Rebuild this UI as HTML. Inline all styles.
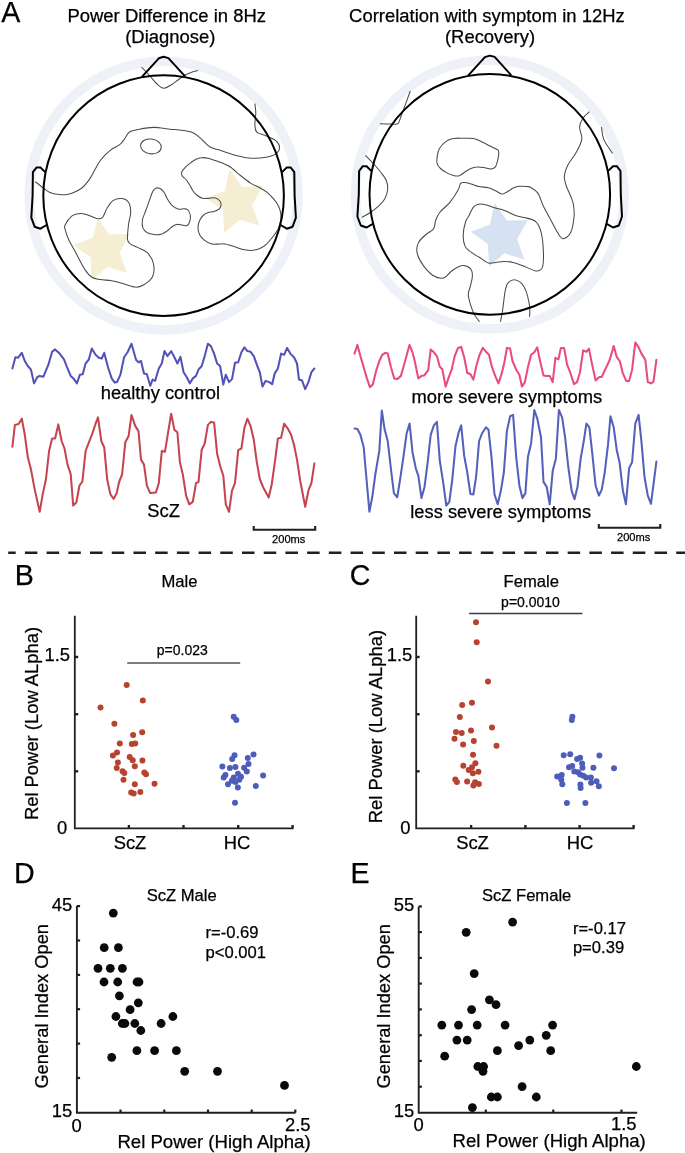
<!DOCTYPE html>
<html><head><meta charset="utf-8"><style>
html,body{margin:0;padding:0;background:#fff;overflow:hidden;}
svg{display:block;will-change:transform;font-family:"Liberation Sans", sans-serif;}
text{stroke:#000;stroke-width:0.25px;}
</style></head><body>
<svg width="685" height="1153" viewBox="0 0 685 1153" fill="#000">
<rect width="685" height="1153" fill="#fff"/>
<text x="1.3" y="21.5" font-size="28.6" text-anchor="start">A</text>
<text x="14.7" y="584.5" font-size="28.6" text-anchor="start">B</text>
<text x="349.7" y="584.7" font-size="28.6" text-anchor="start">C</text>
<text x="14.1" y="882.6" font-size="28.6" text-anchor="start">D</text>
<text x="350.6" y="882.6" font-size="28.6" text-anchor="start">E</text>
<text x="67.5" y="21.6" font-size="18.45" text-anchor="start">Power Difference in 8Hz</text>
<text x="170.3" y="43.2" font-size="18.45" text-anchor="middle">(Diagnose)</text>
<text x="349.1" y="21.6" font-size="18.45" text-anchor="start">Correlation with symptom in 12Hz</text>
<text x="490" y="43.3" font-size="18.45" text-anchor="middle">(Recovery)</text>
<circle cx="163.6" cy="195.6" r="134.4" fill="none" stroke="#eef1f7" stroke-width="9.6"/>
<circle cx="489.8" cy="194.4" r="134.4" fill="none" stroke="#eef1f7" stroke-width="9.6"/>
<polygon points="97.7,218.2 109.4,234.5 129.8,233.9 119.7,252.6 126.9,273.1 107.6,267 91.6,280.1 90.5,257.3 73.2,245 92.8,237.8" fill="#f6eed3"/>
<polygon points="229.5,169.1 242.3,187.1 262.7,186.3 252,205 259.5,225.4 240,219.8 224.2,233 223,210.2 206.1,198 224.8,190.9" fill="#f6eed3"/>
<polygon points="494.6,203 506.9,220.5 527.8,220.3 517.1,238.9 524.3,259.6 504.3,253.2 489.3,266.5 487.7,244 470.9,231.8 490,224.6" fill="#d6e1f1"/>
<path d="M35.2,181.6C36.6,182.7 40.9,186.2 43.4,188C45.9,189.8 47.4,191.4 50,192.5C52.6,193.6 56.2,194.2 59,194.5C61.8,194.8 64.5,194.9 67,194.5C69.5,194.1 71.7,193.3 74.2,192.2C76.7,191.1 79.7,189.7 81.9,188C84.1,186.3 85.8,184.2 87.4,182.2C89,180.2 90.2,178.1 91.5,176C92.8,173.9 93.5,172.2 95,169.5C96.5,166.8 98.2,163.2 100.7,160C103.2,156.8 107,153 110.2,150.4C113.4,147.8 117.3,146.6 119.7,144.7C122.1,142.8 122.9,141.1 124.5,139C126.1,136.9 126.8,133.9 129.2,132.3C131.6,130.7 134.6,130.2 138.7,129.4C142.8,128.6 148.7,127.4 153.9,127.4C159.1,127.4 165.7,128.8 170,129.2C174.3,129.6 175.7,129.4 179.5,130C183.3,130.6 189.5,131.3 193,132.7C196.5,134.1 197.8,136 200.7,138.4C203.5,140.8 206.7,144.9 210.1,147C213.5,149.1 217,149.3 221.3,150.7C225.7,152.1 231.2,154.2 236.2,155.4C241.2,156.7 246.1,157.9 251.1,158.2C256.1,158.5 262.2,157.9 266.3,157.2C270.4,156.5 273.6,155.6 275.8,153.9C278,152.2 279.6,149.5 279.6,147.3C279.6,145.1 278,142.6 275.8,140.7C273.6,138.8 269.5,137.3 266.3,135.9C263.1,134.5 258.7,134 256.8,132.1C254.9,130.2 255.1,127.7 254.9,124.5C254.7,121.3 255.8,116.6 255.8,113.1C255.8,109.6 255.1,105.2 254.9,103.6" fill="none" stroke="#4a4a4a" stroke-width="1.05"/>
<path d="M141.6,67C143,68.5 147.4,73.2 150,76C152.6,78.8 154.7,82 157,84C159.3,86 161.4,88.2 163.8,88.3C166.2,88.4 169,86.1 171.4,84.7C173.8,83.3 175.8,81.6 178,80C180.2,78.4 182.5,76.5 184.7,75.2C186.9,74 188.8,73.3 191,72.5C193.2,71.7 196.8,70.8 198,70.4" fill="none" stroke="#4a4a4a" stroke-width="1.05"/>
<path d="M65.6,231C65,228.7 63.9,227.7 65,225.2C66.1,222.7 69.5,217.8 72,215.8C74.5,213.9 77.5,213.6 80.2,213.5C82.9,213.4 85.7,214.5 88.4,215.3C91.1,216.1 94.2,218 96.5,218.4C98.8,218.8 100.7,219.2 102.4,217.6C104.1,215.9 105.2,211.3 106.9,208.5C108.6,205.7 110.1,202.6 112.6,200.9C115.1,199.2 119.4,198.3 122.1,198.6C124.8,198.9 127.4,200.5 128.8,202.8C130.2,205.1 130.7,208.8 130.7,212.3C130.7,215.8 129.1,219.5 128.6,224C128.1,228.5 127.2,235.9 127.5,239.2C127.8,242.5 128.8,242.5 130.4,243.9C132.1,245.3 134.7,246 137.4,247.4C140.1,248.8 144.1,249.4 146.8,252.1C149.5,254.8 152.5,259.4 153.4,263.5C154.3,267.6 154.2,273.2 152.5,276.8C150.8,280.4 145.9,283.6 143,285.3C140.1,287 138.8,287.5 135.1,287.1C131.4,286.7 125,284.1 121.1,283C117.2,281.9 115.2,281.3 111.7,280.7C108.2,280.1 103.3,280.1 100,279.5C96.7,278.9 94.4,278.8 91.9,277.2C89.4,275.6 87.4,273.4 84.9,269.6C82.4,265.8 79.4,259.5 76.7,254.4C74,249.3 70.3,243.1 68.5,239.2C66.7,235.3 66.2,233.3 65.6,231Z" fill="none" stroke="#4a4a4a" stroke-width="1.05"/>
<path d="M155.6,188.3C156.8,187.7 158.1,187.7 159.5,188.3C160.9,188.9 162.6,190.2 163.9,192C165.2,193.8 166.1,196.8 167.4,199C168.7,201.2 170.1,203.4 171.8,205.1C173.6,206.8 175.9,208.5 177.9,209.1C179.9,209.7 182.4,208.7 184.1,208.8C185.8,209 186.9,208.8 188,210C189.1,211.2 190.1,213.7 190.4,215.7C190.7,217.7 190.2,220.2 189.7,221.8C189.1,223.4 188.3,224.9 187.1,225.5C185.9,226.1 184,225.3 182.3,225.1C180.6,224.9 178.6,224.2 177,224.4C175.4,224.6 174.4,225 172.7,226.2C170.9,227.4 168.4,230.1 166.5,231.4C164.6,232.7 163.3,233.7 161.3,234.2C159.3,234.7 156.6,234.8 154.3,234.5C152,234.2 149.2,233.8 147.3,232.7C145.4,231.6 143.7,230 142.9,227.9C142.1,225.8 142,222.8 142.4,220C142.8,217.2 144.4,214.4 145.5,211.3C146.6,208.2 147.8,204.8 149,201.6C150.2,198.4 151.4,194.2 152.5,192C153.6,189.8 154.4,188.9 155.6,188.3Z" fill="none" stroke="#4a4a4a" stroke-width="1.05"/>
<path d="M181.6,172.3C182.1,170.8 184,168.7 185.5,167.1C187,165.5 189.1,164 190.8,162.7C192.6,161.4 194.2,160 196,159.2C197.8,158.4 199.2,157.8 201.3,157.7C203.4,157.5 206,157.8 208.3,158.3C210.6,158.8 213,159.7 215.3,160.5C217.6,161.3 219.9,162 222.3,163.1C224.8,164.2 227,164.7 230,166.8C233,168.9 237,172.7 240.5,175.5C244,178.3 247.9,181.4 251,183.4C254.1,185.4 256.3,185.8 258.9,187.3C261.5,188.8 264.3,190.2 266.8,192.2C269.3,194.2 271.8,196.9 273.8,199.2C275.8,201.5 277.4,203.7 278.6,206.2C279.8,208.7 280.5,211.4 280.8,214C281.1,216.6 280.8,219.4 280.4,221.9C280,224.4 279.4,226.4 278.2,228.9C276.9,231.4 274.8,234.3 272.9,236.8C271,239.3 269,241.8 266.8,243.8C264.6,245.8 262.3,247.5 259.8,248.6C257.3,249.7 254.7,250.2 251.9,250.4C249.1,250.6 245.2,249.8 243.1,249.5C241,249.2 241.6,249.1 239.6,248.4C237.6,247.7 233.3,246.2 230.9,245.5C228.5,244.8 226.9,244.2 225,243.9C223.1,243.7 221.4,244 219.2,244C217,244 214.3,244.6 211.9,244C209.5,243.4 206.7,242 204.6,240.4C202.5,238.8 200.6,236.7 199.5,234.5C198.4,232.3 198,229.5 198,227.2C198,224.9 198.7,222.6 199.5,220.7C200.3,218.8 201.7,216.8 203.1,215.5C204.5,214.2 206.4,213.3 208.2,212.6C210,211.9 212.3,212.1 214.1,211.5C215.9,210.9 218,210 219.2,209C220.3,208 220.9,206.6 221,205.3C221.1,204 220.8,202.2 219.9,201C219,199.8 217.3,198.5 215.5,198C213.7,197.5 211.1,198.1 209,198.2C206.9,198.3 205,198.8 203.1,198.4C201.2,198 199,196.8 197.3,195.5C195.6,194.2 194.1,192.4 192.9,190.7C191.7,189 191.2,187.4 190,185.5C188.8,183.6 187.3,181 186,179.5C184.7,178 183.1,177.5 182.4,176.3C181.7,175.1 181.1,173.8 181.6,172.3Z" fill="none" stroke="#4a4a4a" stroke-width="1.05"/>
<path d="M410.3,91C409.4,93.6 406.2,102.3 404.6,106.6C403,110.9 401.9,114.2 400.8,117C399.7,119.8 399.4,122.5 398,123.7C396.6,124.9 395.3,124 392.3,124C389.3,124 382,123.8 379.9,123.7" fill="none" stroke="#4a4a4a" stroke-width="1.05"/>
<path d="M365.4,155.3C366.9,156.8 371.6,161.6 374.2,164.5C376.8,167.4 379.2,170.1 381.2,172.8C383.2,175.5 385.3,177.9 386.4,180.7C387.5,183.5 388,186.3 387.7,189.4C387.4,192.5 386.2,196.2 384.7,199C383.2,201.8 380.8,203.9 378.5,206.1C376.2,208.3 373.5,210.3 370.7,212.2C367.9,214.1 363.4,216.5 361.9,217.4" fill="none" stroke="#4a4a4a" stroke-width="1.05"/>
<path d="M437,158C437.4,155.5 437.7,151.5 439.3,148.7C440.9,145.9 444,142.8 446.4,141.1C448.8,139.4 450.5,138.9 453.4,138.4C456.3,137.9 460.6,138.2 463.9,138.2C467.2,138.2 470.7,138 473.2,138.4C475.7,138.8 476.5,139.4 479,140.5C481.5,141.6 485.3,143.6 488.4,145.2C491.5,146.8 496,148.5 497.7,149.9C499.4,151.3 498.7,151.7 498.7,153.4C498.7,155.2 498.2,158.2 497.7,160.4C497.1,162.6 496.6,165.4 495.4,166.8C494.2,168.2 492.6,169 490.7,169.1C488.8,169.2 486,167.9 483.7,167.6C481.4,167.3 478.8,166.9 476.7,167.1C474.6,167.2 472.8,167.7 470.9,168.5C468.9,169.3 466.9,170.8 465,172C463.1,173.2 461.1,175.2 459.2,175.8C457.3,176.4 455.5,176 453.4,175.5C451.3,175 448.5,173.8 446.4,172.6C444.2,171.4 442,169.9 440.5,168.5C439,167.1 437.8,165.7 437.2,163.9C436.6,162.2 436.6,160.5 437,158Z" fill="none" stroke="#4a4a4a" stroke-width="1.05"/>
<path d="M589.5,111.7C588.4,112.8 584.5,115.7 582.9,118.3C581.2,120.9 579.8,123.6 579.6,127.1C579.4,130.6 582.3,134.9 581.8,139.1C581.2,143.3 578.7,147.9 576.3,152.3C573.9,156.7 569.6,161.4 567.6,165.4C565.6,169.4 564.5,172.9 564.3,176.3C564.1,179.7 565.2,182.6 566.3,186C567.4,189.4 569.8,193.8 571,197C572.2,200.2 573,201.6 573.5,205C574,208.4 574.5,212.6 574,217.2C573.5,221.8 572.5,229 570.7,232.6C568.9,236.2 565.3,238.7 563.1,238.7C560.9,238.7 559.8,236 557.6,232.6C555.4,229.2 552.3,222.7 549.9,218.3C547.5,213.9 545.4,210.5 543.4,206.3C541.4,202.1 540.1,196.3 537.9,193.1C535.7,189.9 532.2,188.4 530.4,187.3C528.6,186.2 528.7,186.8 526.9,186.6C525.1,186.4 521.6,186 519.4,186.2C517.2,186.4 515.4,187 513.8,187.7C512.2,188.3 511.3,189.3 510,190.1C508.7,190.9 507.3,191.8 505.9,192.5C504.5,193.2 503.6,194.3 501.8,194C500.1,193.7 497.6,191.7 495.4,190.7C493.2,189.7 491.1,188.5 488.4,187.8C485.7,187.1 481.7,187.2 479,186.6C476.3,186 474.3,185 472,184.3C469.7,183.6 466.9,182.8 465,182.6C463.1,182.4 461.8,182.2 460.6,183.4C459.5,184.6 459.9,186.8 458.1,190C456.3,193.2 453,198.6 449.9,202.3C446.8,206.1 442.1,209.4 439.7,212.5C437.3,215.6 436.6,218 435.6,220.7C434.6,223.4 435.3,226.4 433.6,228.8C431.9,231.2 428,232.6 425.4,235C422.8,237.4 419.6,240 418.2,243.1C416.8,246.2 416.3,249.7 417.2,253.4C418.1,257.2 420.7,261.9 423.4,265.6C426.1,269.3 430.2,273.8 433.6,275.8C437,277.9 440.7,278.8 443.8,277.9C446.9,277 448.9,272.8 452,270.7C455.1,268.6 459.1,265.9 462.2,265.6C465.3,265.3 468.7,267 470.4,268.7C472.1,270.4 472.4,272.9 472.4,275.8C472.4,278.7 471.1,283 470.4,286.1C469.7,289.2 468.3,291.1 468.3,294.2C468.3,297.2 469.4,301 470.4,304.4C471.4,307.8 473,311.8 474.5,314.7C476,317.6 478.8,320.6 479.6,321.8" fill="none" stroke="#4a4a4a" stroke-width="1.05"/>
<path d="M478.3,204.2C480.3,203.8 482.7,204.1 485.4,204.7C488.1,205.3 491.5,206.9 494.6,207.8C497.7,208.7 501.1,209.4 503.8,210.3C506.5,211.2 508.8,212.5 511,213.4C513.2,214.3 514.9,215.3 517.1,216C519.3,216.7 521.2,216.6 524.3,217.5C527.4,218.4 532.9,219.1 535.7,221.6C538.5,224.1 539.9,227.5 541.2,232.6C542.5,237.7 543.2,246.5 543.4,252.3C543.6,258.1 543.6,264.5 542.3,267.6C541,270.7 539.1,271.2 535.7,270.9C532.4,270.5 526,266.9 522.2,265.5C518.4,264.1 516.1,263.1 513,262.4C509.9,261.7 506.7,261.4 503.8,261.4C500.9,261.4 498.2,262.1 495.7,262.4C493.1,262.7 491.2,263.9 488.5,263C485.8,262.1 482.2,259.1 479.3,257.3C476.4,255.5 473.5,254.1 471.1,252.2C468.7,250.3 466.3,249 465,246.1C463.7,243.2 463.1,239 463.2,235C463.3,231 464.5,225.3 465.5,222C466.5,218.7 467.8,217.8 469.1,215.4C470.4,213 471.7,209.2 473.2,207.3C474.7,205.4 476.3,204.6 478.3,204.2Z" fill="none" stroke="#4a4a4a" stroke-width="1.05"/>
<path d="M500.4,321.8C500.7,320.2 501.8,315.5 502.3,312.4C502.8,309.3 503,306.6 503.5,303.1C504,299.6 504.4,294.7 505.1,291.4C505.8,288.1 506.3,285.1 507.9,283.2C509.4,281.2 512.1,279.7 514.4,279.7C516.6,279.7 519.4,281.2 521.4,283.2C523.4,285.1 524.8,288.1 526.1,291.4C527.4,294.7 528.5,300 529.1,303.1C529.7,306.2 529.7,307.8 529.8,310.1C529.9,312.4 529.6,315.9 529.6,317.1" fill="none" stroke="#4a4a4a" stroke-width="1.05"/>
<path d="M601.5,127.1C601.9,129.1 601.9,134.7 603.7,139.1C605.5,143.5 611,151 612.5,153.4" fill="none" stroke="#4a4a4a" stroke-width="1.05"/>
<ellipse cx="150.9" cy="146.4" rx="10.4" ry="7.4" transform="rotate(8 150.9 146.4)" fill="none" stroke="#4a4a4a" stroke-width="1.05"/>
<circle cx="163.6" cy="195.6" r="120.3" fill="none" stroke="#000" stroke-width="2"/>
<polyline points="141.9,76.8 158.8,58.3 163.6,56.8 168.4,58.1 185.1,76.4" fill="none" stroke="#000" stroke-width="2" stroke-linejoin="round"/>
<polyline points="282.1,172.1 286.8,167.4 290.6,167.4 294.3,172.2 294.6,195.6 295.9,217.7 292.6,226.7 286.8,228.7 280.6,225" fill="none" stroke="#000" stroke-width="2" stroke-linejoin="round"/>
<polyline points="45.1,172.1 40.4,167.4 36.6,167.4 32.9,172.2 32.6,195.6 31.3,217.7 34.6,226.7 40.4,228.7 46.6,225" fill="none" stroke="#000" stroke-width="2" stroke-linejoin="round"/>
<circle cx="489.8" cy="194.4" r="120.3" fill="none" stroke="#000" stroke-width="2"/>
<polyline points="468.1,75.6 484.9,57.1 489.8,55.6 494.6,56.9 511.2,75.2" fill="none" stroke="#000" stroke-width="2" stroke-linejoin="round"/>
<polyline points="608.2,170.9 613,166.2 616.8,166.2 620.5,171 620.8,194.4 622,216.5 618.8,225.5 613,227.5 606.8,223.8" fill="none" stroke="#000" stroke-width="2" stroke-linejoin="round"/>
<polyline points="371.2,170.9 366.6,166.2 362.8,166.2 359.1,171 358.8,194.4 357.4,216.5 360.8,225.5 366.6,227.5 372.8,223.8" fill="none" stroke="#000" stroke-width="2" stroke-linejoin="round"/>
<polyline points="12.4,368.5 15.4,357.3 17.9,357.8 21.8,352.8 24.8,361 27.8,366 31,369.7 34,383.4 37.2,377.2 39.7,375.9 43.4,376.7 48.4,364.7 52.1,351.8 55.1,349.4 59.6,353.6 64,359.3 67,367.2 70.7,375.9 74,379.1 76.9,383.4 79.9,374.7 82.7,374.2 85.6,363.5 88.9,359.3 91.8,348.6 95.6,354.8 98.8,357.8 101.8,358.5 104.2,352.8 108,367.2 111.7,378.4 114.7,382.6 117.1,382.1 120.4,374.7 124.1,357.3 127.8,351.8 131.5,343.7 136,359.8 138.5,362.3 141,361 144,373.4 146.9,374.2 150.2,385.8 152.6,379.6 155.1,380.9 158.8,368.5 161.8,363.5 164.5,351.1 167.4,356.1 171.2,351.1 174.4,357.3 177.4,363.5 180.4,356.8 183.6,372.2 186.8,377.2 189.8,383.4 192.8,378.4 196,375.9 198.5,369.7 201.7,366 204.7,356.1 207.9,343.7 210.9,346.1 214.1,353.6 217.1,363.5 220.1,366 223.3,384.6 225.8,374.7 229,382.1 232,379.1 235,362.8 238.2,362.3 241.4,352.3 244.4,347.4 247.4,351.1 250.6,351.8 253.8,356.1 257.3,366 259.8,372.2 262.5,386.6 265.5,380.9 269.2,382.1 272.2,384.1 274.7,373.4 277.9,368.5 281.1,353.6 284.1,354.8 287.1,347.9 290.3,353.6 294,357.3 297,363.5 299,379.6 302,380.4 305.2,389.1 308.4,382.1 311.4,372.2 314.4,368.5" fill="none" stroke="#5353b7" stroke-width="2.05" stroke-linejoin="round" stroke-linecap="round"/>
<polyline points="12.4,446.7 14.9,424.9 18.6,424.1 21.8,418.7 24.8,434.8 27.8,457.2 31,469.6 34.7,489.4 39.7,511.8 42.7,494.4 45.9,479.5 49.1,451 52.1,438.5 55.1,438.5 58.3,424.4 61.6,441 64.5,448.5 67.5,464.6 70.7,474 73.2,505.6 76.4,502.3 79.4,485.7 82.4,481.5 85.6,451 88.9,442.3 92.3,433.6 95.6,423.7 98,417.4 101.3,441 104.2,447.2 107.2,479.5 110.4,494.4 113.7,498.9 116.7,493.1 119.1,482 122.1,474.5 125.3,442.3 128.6,436.1 131.5,415 135.3,426.1 138.5,431.1 141,459.6 144,464.6 146.9,485.7 150.2,493.1 155.9,492.4 158.8,483.2 161.8,451 165,451.7 167.9,433.6 171.2,413.7 174.4,429.9 177.4,432.3 179.9,462.1 182.8,474.5 186.1,495.6 189.3,504.3 192.8,501.8 196,483.2 198.5,482 201.7,449.7 204.7,443.5 207.9,424.9 210.9,421.9 214.1,422.4 217.1,453.4 220.1,465.8 223.3,475.8 225.8,504.3 229,511.8 232,490.7 235,483.2 238.2,450.2 241.4,448.5 244.4,427.9 247.4,418.7 250.6,426.1 253.8,439.8 256.8,462.1 259.8,479 263,486.9 268.7,497.4 271.7,484.5 274.7,463.4 277.9,438.5 281.1,437.8 284.1,423.7 287.8,428.6 291.1,434.8 294,444.7 297,459.6 300.2,480.7 305.2,506.8 308.4,490.7 311.4,483.2 314.4,463.4" fill="none" stroke="#c4454f" stroke-width="2.05" stroke-linejoin="round" stroke-linecap="round"/>
<polyline points="354.5,353.6 357.4,344.9 360.4,356.1 363.7,367.2 366.9,378.4 369.9,387.1 372.8,384.6 376.1,371 379.3,361 382.3,354.8 385.2,352.8 387.7,353.6 391,367.2 394.2,378.4 397.2,379.1 400.9,375.9 404.1,364.7 407.1,353.6 409.6,344.9 412.5,352.3 415,362.3 418.3,378.4 421.5,375.9 424.5,375.2 428.2,370.2 430.7,349.4 433.9,352.3 436.9,356.1 439.8,366.7 442.3,369.2 445.6,386.6 448.8,377.2 451.8,369.2 454.7,356.1 458,347.9 461.2,346.9 464.2,357.3 467.2,372.7 470.4,374.2 473.4,379.6 476.6,364.7 479.6,354.8 482.8,347.9 486,351.8 489,354.8 492,367.2 495.2,375.9 498.4,383.4 501.4,374.7 504.4,362.3 506.9,347.9 510.1,348.6 512.5,361 516.2,369.7 519.4,374.7 521.9,386.6 524.9,382.1 527.9,367.2 531.1,354.8 534.3,352.3 537.3,347.4 540.3,362.3 543.5,375.4 546.7,375.9 549.7,375.9 552.7,382.1 555.4,357.8 558.4,359.3 560.9,347.9 564.1,347.9 567.1,364.7 570.1,372.2 574,384.1 577,382.1 580,372.2 583.2,350.4 586.4,351.8 588.9,348.6 591.9,363.5 595.6,380.4 598.9,377.2 601.8,376.7 605.6,368.5 609.3,361 613.7,346.1 616.7,356.8 619.7,361 622.9,373.4 626.2,380.9 629.1,380.9 632.1,369.7 635.3,342.4 638.6,347.4 641.5,353.6 645.3,359.8 647.8,382.1 651,383.4 653.5,381.6 656.4,359.8" fill="none" stroke="#e84b7f" stroke-width="2.05" stroke-linejoin="round" stroke-linecap="round"/>
<polyline points="354.5,428.6 357.4,429.1 360.4,434.8 363.7,447.2 366.1,474.5 369.4,511.7 372.3,496.8 375.3,474.5 379.3,450.9 381.8,410.5 384.7,429.8 387.7,441 391,469.5 393.9,493.1 397.2,497.3 400.1,479.5 403.4,457.1 406.6,433.5 409.6,423.6 412.5,452.2 415.8,468.3 418.3,475.7 421.5,498.1 424.5,486.9 427.4,464.6 430.7,434.8 433.9,425.4 436.9,421.9 439.8,460.8 443.1,481.9 446.3,505.5 449.3,501.8 452.3,479.5 455.5,446 458.7,432.3 461.2,425.4 464.2,455.9 467.2,472 470.4,493.9 473.4,494.4 476.1,477 479.1,441 482,433.5 486,427.3 488.5,429.8 491.5,457.1 494.5,494.4 497.7,504.3 500.9,490.6 503.9,472 506.9,431.1 510.1,416.2 513.1,414.9 516.2,457.1 519.4,485.7 522.4,498.1 525.4,493.1 527.9,457.1 531.1,443.5 534.3,410 537.3,418.7 541,437.3 543.5,481.9 546.7,486.9 549.7,504.3 552.7,470.8 555.9,458.4 558.9,410 562.1,417.4 565.1,437.3 568.3,467 571.6,490.6 574.5,499.3 577.5,486.9 580.7,458.4 584,439.7 586.4,423.6 589.4,427.3 592.4,454.6 595.6,485.7 598.9,495.6 601.8,489.4 604.8,472 608,444.7 610.5,416.2 613.7,427.3 616.7,449.7 619.7,463.3 622.9,490.6 625.9,504.3 629.1,468.3 632.1,462.1 635.3,423.6 638.6,414.9 641.5,442.2 644.5,477 647.8,495.6 651,503.8 656.4,461.6" fill="none" stroke="#5361bb" stroke-width="2.05" stroke-linejoin="round" stroke-linecap="round"/>
<text x="100.7" y="398.9" font-size="18.35" text-anchor="start">healthy control</text>
<text x="147.2" y="517" font-size="18.4" text-anchor="start">ScZ</text>
<text x="411.4" y="403" font-size="18.37" text-anchor="start">more severe symptoms</text>
<text x="410.3" y="518" font-size="18.3" text-anchor="start">less severe symptoms</text>
<path d="M253.7,526V529.8H315.2V526" fill="none" stroke="#231f20" stroke-width="2.1"/>
<path d="M598.8,524V527.7H660.3V524" fill="none" stroke="#231f20" stroke-width="2.1"/>
<text x="272.1" y="543.1" font-size="11.1" text-anchor="start">200ms</text>
<text x="617" y="541" font-size="11.1" text-anchor="start">200ms</text>
<line x1="8.2" y1="552.7" x2="685" y2="552.7" stroke="#231f20" stroke-width="2.5" stroke-dasharray="12.5 9.21" stroke-dashoffset="5"/>
<path d="M74.8,615.8V828.4H293.4" fill="none" stroke="#231f20" stroke-width="1.8"/>
<line x1="74.8" y1="657" x2="78.2" y2="657" stroke="#231f20" stroke-width="2.4"/>
<line x1="74.8" y1="714.2" x2="78.2" y2="714.2" stroke="#231f20" stroke-width="2.4"/>
<line x1="74.8" y1="771.3" x2="78.2" y2="771.3" stroke="#231f20" stroke-width="2.4"/>
<line x1="128.9" y1="828.4" x2="128.9" y2="825" stroke="#231f20" stroke-width="2.4"/>
<line x1="183.5" y1="828.4" x2="183.5" y2="825" stroke="#231f20" stroke-width="2.4"/>
<line x1="238.2" y1="828.4" x2="238.2" y2="825" stroke="#231f20" stroke-width="2.4"/>
<line x1="292.6" y1="828.4" x2="292.6" y2="825" stroke="#231f20" stroke-width="2.4"/>
<path d="M416.2,615.8V828.4H634.4" fill="none" stroke="#231f20" stroke-width="1.8"/>
<line x1="416.2" y1="657" x2="419.6" y2="657" stroke="#231f20" stroke-width="2.4"/>
<line x1="416.2" y1="714.2" x2="419.6" y2="714.2" stroke="#231f20" stroke-width="2.4"/>
<line x1="416.2" y1="771.3" x2="419.6" y2="771.3" stroke="#231f20" stroke-width="2.4"/>
<line x1="471.1" y1="828.4" x2="471.1" y2="825" stroke="#231f20" stroke-width="2.4"/>
<line x1="525.4" y1="828.4" x2="525.4" y2="825" stroke="#231f20" stroke-width="2.4"/>
<line x1="579.6" y1="828.4" x2="579.6" y2="825" stroke="#231f20" stroke-width="2.4"/>
<line x1="633.6" y1="828.4" x2="633.6" y2="825" stroke="#231f20" stroke-width="2.4"/>
<text transform="translate(37.7,820.1) rotate(-90)" font-size="18.4">Rel Power (Low ALpha)</text>
<text transform="translate(382,823.2) rotate(-90)" font-size="18.4">Rel Power (Low ALpha)</text>
<text x="70" y="661.4" font-size="18.4" text-anchor="end">1.5</text>
<text x="67.2" y="834.2" font-size="18.4" text-anchor="end">0</text>
<text x="412.3" y="661.4" font-size="18.4" text-anchor="end">1.5</text>
<text x="410.6" y="834.2" font-size="18.4" text-anchor="end">0</text>
<text x="130" y="849" font-size="18.4" text-anchor="middle">ScZ</text>
<text x="237" y="849" font-size="18.4" text-anchor="middle">HC</text>
<text x="472.5" y="849" font-size="18.4" text-anchor="middle">ScZ</text>
<text x="580.1" y="849" font-size="18.4" text-anchor="middle">HC</text>
<text x="161.5" y="587.2" font-size="16.6" text-anchor="start">Male</text>
<text x="503.6" y="587" font-size="16.6" text-anchor="start">Female</text>
<text x="156.8" y="655.4" font-size="14.0" text-anchor="start">p=0.023</text>
<text x="501.1" y="607.1" font-size="14.0" text-anchor="start">p=0.0010</text>
<line x1="127.2" y1="663" x2="240.2" y2="663" stroke="#7f7c7c" stroke-width="1.9"/>
<line x1="469.1" y1="613.5" x2="582.4" y2="613.5" stroke="#3e3b3a" stroke-width="1.6"/>
<g fill="#b7422f"><circle cx="126.7" cy="685" r="3.0"/><circle cx="142.8" cy="700.4" r="3.0"/><circle cx="100.5" cy="707.4" r="3.0"/><circle cx="114.4" cy="723.8" r="3.0"/><circle cx="142.2" cy="732.2" r="3.0"/><circle cx="133.1" cy="735" r="3.0"/><circle cx="119.8" cy="743.4" r="3.0"/><circle cx="131.8" cy="744.1" r="3.0"/><circle cx="135.2" cy="743.6" r="3.0"/><circle cx="117" cy="752.5" r="3.0"/><circle cx="112.9" cy="755.4" r="3.0"/><circle cx="129.7" cy="756.9" r="3.0"/><circle cx="132.7" cy="760.3" r="3.0"/><circle cx="142.4" cy="760.6" r="3.0"/><circle cx="117.9" cy="762.6" r="3.0"/><circle cx="134.8" cy="766.2" r="3.0"/><circle cx="116.7" cy="768" r="3.0"/><circle cx="122.5" cy="771.3" r="3.0"/><circle cx="124.3" cy="773.1" r="3.0"/><circle cx="144.3" cy="772.6" r="3.0"/><circle cx="146" cy="774.3" r="3.0"/><circle cx="123.5" cy="779.8" r="3.0"/><circle cx="154.5" cy="783.7" r="3.0"/><circle cx="134.8" cy="784.3" r="3.0"/><circle cx="131.2" cy="792.5" r="3.0"/><circle cx="133.7" cy="793.4" r="3.0"/><circle cx="140.3" cy="792" r="3.0"/></g>
<g fill="#4e5dbb"><circle cx="233.7" cy="716.8" r="3.0"/><circle cx="236.3" cy="720" r="3.0"/><circle cx="234.5" cy="755.3" r="3.0"/><circle cx="232.2" cy="759.1" r="3.0"/><circle cx="253.5" cy="754.4" r="3.0"/><circle cx="247.8" cy="757.9" r="3.0"/><circle cx="248.5" cy="764" r="3.0"/><circle cx="222.4" cy="766.4" r="3.0"/><circle cx="229.9" cy="767.9" r="3.0"/><circle cx="235.4" cy="767.1" r="3.0"/><circle cx="244.1" cy="767.7" r="3.0"/><circle cx="246.8" cy="771.6" r="3.0"/><circle cx="225.4" cy="774.9" r="3.0"/><circle cx="223.7" cy="777.6" r="3.0"/><circle cx="238" cy="773.7" r="3.0"/><circle cx="233.7" cy="777.6" r="3.0"/><circle cx="241" cy="776.8" r="3.0"/><circle cx="239.3" cy="779.8" r="3.0"/><circle cx="231.9" cy="780.7" r="3.0"/><circle cx="228" cy="784.2" r="3.0"/><circle cx="235.4" cy="782" r="3.0"/><circle cx="263.1" cy="775.5" r="3.0"/><circle cx="255.8" cy="786.1" r="3.0"/><circle cx="237.8" cy="787.6" r="3.0"/><circle cx="235" cy="802.8" r="3.0"/></g>
<g fill="#b7422f"><circle cx="476" cy="622.2" r="3.0"/><circle cx="476.7" cy="642.2" r="3.0"/><circle cx="488" cy="681.4" r="3.0"/><circle cx="472" cy="702.7" r="3.0"/><circle cx="462.2" cy="704.9" r="3.0"/><circle cx="459.8" cy="716.9" r="3.0"/><circle cx="492" cy="727.5" r="3.0"/><circle cx="471" cy="730.5" r="3.0"/><circle cx="456" cy="732.1" r="3.0"/><circle cx="461.7" cy="733.1" r="3.0"/><circle cx="454.5" cy="738.8" r="3.0"/><circle cx="473.8" cy="741" r="3.0"/><circle cx="496.5" cy="745.8" r="3.0"/><circle cx="463.1" cy="744.6" r="3.0"/><circle cx="473" cy="754.8" r="3.0"/><circle cx="475.4" cy="763.2" r="3.0"/><circle cx="463.3" cy="765.8" r="3.0"/><circle cx="472" cy="767.3" r="3.0"/><circle cx="468.7" cy="769.9" r="3.0"/><circle cx="472.9" cy="773.2" r="3.0"/><circle cx="478.4" cy="771.8" r="3.0"/><circle cx="455.3" cy="779.5" r="3.0"/><circle cx="456.9" cy="782" r="3.0"/><circle cx="467.1" cy="781.6" r="3.0"/><circle cx="475.1" cy="782.3" r="3.0"/><circle cx="478.9" cy="784" r="3.0"/><circle cx="473.4" cy="785.4" r="3.0"/></g>
<g fill="#4e5dbb"><circle cx="572.4" cy="716.7" r="3.0"/><circle cx="571.8" cy="720" r="3.0"/><circle cx="563.7" cy="755.2" r="3.0"/><circle cx="570.2" cy="754.3" r="3.0"/><circle cx="599.4" cy="755.5" r="3.0"/><circle cx="577.1" cy="759" r="3.0"/><circle cx="580.1" cy="757.8" r="3.0"/><circle cx="582.1" cy="763.4" r="3.0"/><circle cx="582.5" cy="767.8" r="3.0"/><circle cx="569" cy="767.3" r="3.0"/><circle cx="572.2" cy="766.1" r="3.0"/><circle cx="593.4" cy="767.7" r="3.0"/><circle cx="614" cy="768.3" r="3.0"/><circle cx="574.3" cy="771.6" r="3.0"/><circle cx="578" cy="772.2" r="3.0"/><circle cx="580.1" cy="774.5" r="3.0"/><circle cx="583.3" cy="775.7" r="3.0"/><circle cx="586.2" cy="777.6" r="3.0"/><circle cx="590.9" cy="777.6" r="3.0"/><circle cx="596.5" cy="781.2" r="3.0"/><circle cx="591.1" cy="782.7" r="3.0"/><circle cx="598.8" cy="786.2" r="3.0"/><circle cx="557.2" cy="776.5" r="3.0"/><circle cx="561.7" cy="775.1" r="3.0"/><circle cx="561.3" cy="779.7" r="3.0"/><circle cx="562.3" cy="784.2" r="3.0"/><circle cx="580.4" cy="784.4" r="3.0"/><circle cx="580.6" cy="787.9" r="3.0"/><circle cx="566.9" cy="802.9" r="3.0"/><circle cx="585.4" cy="802.9" r="3.0"/></g>
<path d="M76.9,906.1V1112.7H295.5" fill="none" stroke="#231f20" stroke-width="1.9"/>
<line x1="76.9" y1="906.1" x2="80.1" y2="906.1" stroke="#231f20" stroke-width="2.2"/>
<line x1="76.9" y1="940.5" x2="80.1" y2="940.5" stroke="#231f20" stroke-width="2.2"/>
<line x1="76.9" y1="974.9" x2="80.1" y2="974.9" stroke="#231f20" stroke-width="2.2"/>
<line x1="76.9" y1="1009.2" x2="80.1" y2="1009.2" stroke="#231f20" stroke-width="2.2"/>
<line x1="76.9" y1="1043.6" x2="80.1" y2="1043.6" stroke="#231f20" stroke-width="2.2"/>
<line x1="76.9" y1="1078" x2="80.1" y2="1078" stroke="#231f20" stroke-width="2.2"/>
<line x1="120.5" y1="1112.7" x2="120.5" y2="1109.5" stroke="#231f20" stroke-width="2.2"/>
<line x1="164.3" y1="1112.7" x2="164.3" y2="1109.5" stroke="#231f20" stroke-width="2.2"/>
<line x1="208" y1="1112.7" x2="208" y2="1109.5" stroke="#231f20" stroke-width="2.2"/>
<line x1="251.7" y1="1112.7" x2="251.7" y2="1109.5" stroke="#231f20" stroke-width="2.2"/>
<line x1="295.3" y1="1112.7" x2="295.3" y2="1109.5" stroke="#231f20" stroke-width="2.2"/>
<path d="M418.7,906.4V1112.7H637.2" fill="none" stroke="#231f20" stroke-width="1.9"/>
<line x1="418.7" y1="906.4" x2="421.9" y2="906.4" stroke="#231f20" stroke-width="2.2"/>
<line x1="418.7" y1="932.1" x2="421.9" y2="932.1" stroke="#231f20" stroke-width="2.2"/>
<line x1="418.7" y1="957.9" x2="421.9" y2="957.9" stroke="#231f20" stroke-width="2.2"/>
<line x1="418.7" y1="983.6" x2="421.9" y2="983.6" stroke="#231f20" stroke-width="2.2"/>
<line x1="418.7" y1="1009.4" x2="421.9" y2="1009.4" stroke="#231f20" stroke-width="2.2"/>
<line x1="418.7" y1="1035.2" x2="421.9" y2="1035.2" stroke="#231f20" stroke-width="2.2"/>
<line x1="418.7" y1="1060.9" x2="421.9" y2="1060.9" stroke="#231f20" stroke-width="2.2"/>
<line x1="418.7" y1="1086.7" x2="421.9" y2="1086.7" stroke="#231f20" stroke-width="2.2"/>
<line x1="485.8" y1="1112.7" x2="485.8" y2="1109.5" stroke="#231f20" stroke-width="2.2"/>
<line x1="553.3" y1="1112.7" x2="553.3" y2="1109.5" stroke="#231f20" stroke-width="2.2"/>
<line x1="621.5" y1="1112.7" x2="621.5" y2="1109.5" stroke="#231f20" stroke-width="2.2"/>
<text transform="translate(48.4,1088.6) rotate(-90)" font-size="18.3">General Index Open</text>
<text transform="translate(390.1,1088.5) rotate(-90)" font-size="18.25">General Index Open</text>
<text x="72.2" y="911" font-size="18.4" text-anchor="end">45</text>
<text x="72.2" y="1117.3" font-size="18.4" text-anchor="end">15</text>
<text x="414.2" y="910.5" font-size="18.4" text-anchor="end">55</text>
<text x="414.2" y="1117" font-size="18.4" text-anchor="end">15</text>
<text x="76.5" y="1131.5" font-size="18.4" text-anchor="middle">0</text>
<text x="418.5" y="1130.6" font-size="18.4" text-anchor="middle">0</text>
<text x="310.5" y="1130.5" font-size="18.4" text-anchor="end">2.5</text>
<text x="636.5" y="1130.3" font-size="18.4" text-anchor="end">1.5</text>
<text x="117.4" y="1147.5" font-size="18.6" text-anchor="start">Rel Power (High Alpha)</text>
<text x="452.5" y="1146.8" font-size="18.6" text-anchor="start">Rel Power (High Alpha)</text>
<text x="146.7" y="900.8" font-size="16.6" text-anchor="start">ScZ Male</text>
<text x="481.9" y="900.8" font-size="16.6" text-anchor="start">ScZ Female</text>
<text x="205.5" y="938" font-size="16.6" text-anchor="start">r=-0.69</text>
<text x="205.5" y="957.7" font-size="16.6" text-anchor="start">p&lt;0.001</text>
<text x="572.9" y="933.6" font-size="16.6" text-anchor="start">r=-0.17</text>
<text x="572.9" y="952.6" font-size="16.6" text-anchor="start">p=0.39</text>
<g fill="#0b0a0a"><circle cx="113.3" cy="913.1" r="4.4"/><circle cx="104.2" cy="947.7" r="4.4"/><circle cx="118.4" cy="947.7" r="4.4"/><circle cx="98" cy="968.3" r="4.4"/><circle cx="110.3" cy="968.3" r="4.4"/><circle cx="122.4" cy="968.3" r="4.4"/><circle cx="104" cy="982" r="4.4"/><circle cx="117.7" cy="982" r="4.4"/><circle cx="137" cy="982" r="4.4"/><circle cx="139" cy="982" r="4.4"/><circle cx="119.4" cy="995.8" r="4.4"/><circle cx="138.3" cy="1002.8" r="4.4"/><circle cx="130.1" cy="1009.7" r="4.4"/><circle cx="115.9" cy="1016.5" r="4.4"/><circle cx="172.9" cy="1016.5" r="4.4"/><circle cx="122.3" cy="1023.5" r="4.4"/><circle cx="124.9" cy="1023.5" r="4.4"/><circle cx="134.8" cy="1023.5" r="4.4"/><circle cx="161.1" cy="1023.5" r="4.4"/><circle cx="140.8" cy="1030.5" r="4.4"/><circle cx="136.9" cy="1050.7" r="4.4"/><circle cx="154.6" cy="1050.7" r="4.4"/><circle cx="176.4" cy="1050.7" r="4.4"/><circle cx="111.7" cy="1057.3" r="4.4"/><circle cx="184.7" cy="1071.3" r="4.4"/><circle cx="217.5" cy="1071.3" r="4.4"/><circle cx="284.5" cy="1085.4" r="4.4"/></g>
<g fill="#0b0a0a"><circle cx="512.6" cy="922.1" r="4.4"/><circle cx="466.2" cy="932.3" r="4.4"/><circle cx="474.2" cy="973.6" r="4.4"/><circle cx="489.4" cy="999.8" r="4.4"/><circle cx="496" cy="1004.7" r="4.4"/><circle cx="471.6" cy="1009.6" r="4.4"/><circle cx="441.8" cy="1025.1" r="4.4"/><circle cx="458.5" cy="1025.1" r="4.4"/><circle cx="477.2" cy="1025.1" r="4.4"/><circle cx="505.1" cy="1025.1" r="4.4"/><circle cx="552.6" cy="1025.1" r="4.4"/><circle cx="456.9" cy="1040.1" r="4.4"/><circle cx="467.2" cy="1040.1" r="4.4"/><circle cx="529.8" cy="1040.1" r="4.4"/><circle cx="546.2" cy="1035.3" r="4.4"/><circle cx="518.6" cy="1045.6" r="4.4"/><circle cx="497.4" cy="1050.7" r="4.4"/><circle cx="550.7" cy="1050.7" r="4.4"/><circle cx="444.7" cy="1056.2" r="4.4"/><circle cx="477.8" cy="1066.5" r="4.4"/><circle cx="483.6" cy="1066.5" r="4.4"/><circle cx="483" cy="1071.3" r="4.4"/><circle cx="636.3" cy="1066.5" r="4.4"/><circle cx="522.1" cy="1086.7" r="4.4"/><circle cx="491.3" cy="1097" r="4.4"/><circle cx="497.4" cy="1097" r="4.4"/><circle cx="536.3" cy="1097" r="4.4"/><circle cx="472.4" cy="1107.6" r="4.4"/></g>
</svg>
</body></html>
